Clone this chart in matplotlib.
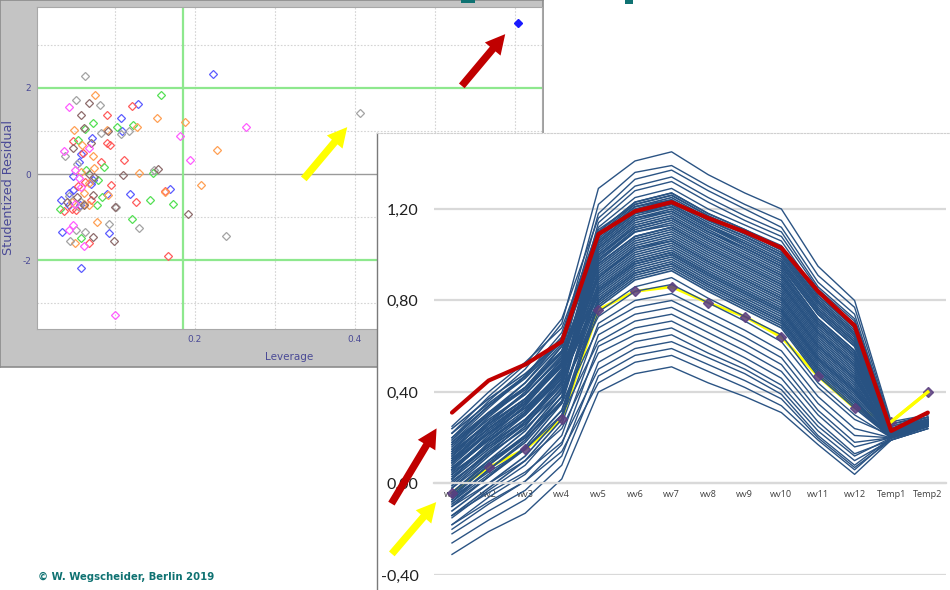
import matplotlib
matplotlib.use("Agg")
import matplotlib.pyplot as plt
from matplotlib.patches import Rectangle, FancyArrowPatch

# -------------------------
# Leverage plot: leverage / studentized residual per group colour
# -------------------------
blue_lev = [0.223, 0.129, 0.107, 0.109, 0.071, 0.057, 0.055, 0.048, 0.073, 0.070, 0.048,
            0.043, 0.090, 0.119, 0.169, 0.033, 0.043, 0.056, 0.034, 0.093, 0.057]
blue_res = [2.32, 1.63, 1.30, 0.99, 0.84, 0.46, 0.29, -0.05, -0.15, -0.24, -0.38,
            -0.44, -0.46, -0.47, -0.35, -0.61, -0.71, -0.72, -1.35, -1.36, -2.18]

red_lev = [0.121, 0.090, 0.047, 0.090, 0.094, 0.060, 0.083, 0.111, 0.062, 0.095,
           0.054, 0.163, 0.070, 0.036, 0.046, 0.051, 0.126, 0.068, 0.166]
red_res = [1.58, 1.38, 0.76, 0.72, 0.68, 0.49, 0.29, 0.32, -0.18, -0.26,
           -0.28, -0.40, -0.61, -0.87, -0.81, -0.83, -0.64, -1.60, -1.91]

green_lev = [0.157, 0.073, 0.062, 0.102, 0.123, 0.054, 0.086, 0.064, 0.147, 0.079,
             0.084, 0.031, 0.077, 0.144, 0.173, 0.121, 0.058]
green_res = [1.83, 1.19, 1.05, 1.09, 1.15, 0.80, 0.16, 0.09, 0.03, -0.13,
             -0.53, -0.81, -0.72, -0.60, -0.69, -1.05, -1.49]

orange_lev = [0.075, 0.152, 0.188, 0.049, 0.090, 0.127, 0.059, 0.228, 0.073, 0.074, 0.058,
              0.130, 0.067, 0.208, 0.061, 0.091, 0.162, 0.061, 0.046, 0.067, 0.078, 0.050]
orange_res = [1.84, 1.29, 1.20, 1.03, 1.02, 1.09, 0.68, 0.55, 0.41, 0.14, 0.05,
              0.02, -0.22, -0.26, -0.44, -0.49, -0.42, -0.69, -0.64, -0.71, -1.12, -1.60]

gray_lev = [0.063, 0.051, 0.081, 0.406, 0.083, 0.107, 0.117, 0.038, 0.052, 0.149,
            0.042, 0.058, 0.055, 0.101, 0.092, 0.130, 0.051, 0.063, 0.044, 0.239]
gray_res = [2.27, 1.72, 1.60, 1.41, 0.96, 0.93, 0.99, 0.43, 0.24, 0.09,
            -0.51, -0.64, -0.77, -0.77, -1.17, -1.26, -1.29, -1.35, -1.56, -1.44]

brown_lev = [0.068, 0.057, 0.061, 0.091, 0.070, 0.048, 0.067, 0.110, 0.154,
             0.074, 0.072, 0.053, 0.040, 0.061, 0.100, 0.191, 0.073, 0.099]
brown_res = [1.64, 1.36, 1.07, 0.99, 0.71, 0.60, 0.01, -0.02, 0.12,
             -0.08, -0.48, -0.53, -0.65, -0.73, -0.77, -0.92, -1.47, -1.56]

magenta_lev = [0.043, 0.264, 0.181, 0.036, 0.068, 0.194, 0.050,
               0.055, 0.057, 0.050, 0.048, 0.042, 0.061, 0.100]
magenta_res = [1.56, 1.09, 0.88, 0.53, 0.60, 0.33, 0.09,
               -0.09, -0.30, -0.69, -1.19, -1.31, -1.67, -3.27]

outlier_lev = [0.604]
outlier_res = [3.51]

lev_limit = 0.185
res_limit = 2.0

# -------------------------
# Spectra: wv1..wv12 plus two temperatures
# -------------------------
variables = ['wv1', 'wv2', 'wv3', 'wv4', 'wv5', 'wv6', 'wv7', 'wv8', 'wv9',
             'wv10', 'wv11', 'wv12', 'Temp1', 'Temp2']
y_ticks = [-0.4, 0.0, 0.4, 0.8, 1.2]
y_tick_labels = ['-0,40', '0,00', '0,40', '0,80', '1,20']

upper_spectra = [
    [0.20, 0.36, 0.50, 0.70, 1.29, 1.41, 1.45, 1.35, 1.27, 1.20, 0.95, 0.80, 0.27, 0.30],
    [0.15, 0.30, 0.44, 0.63, 1.22, 1.36, 1.39, 1.30, 1.22, 1.15, 0.91, 0.77, 0.26, 0.29],
    [0.10, 0.26, 0.40, 0.60, 1.18, 1.33, 1.37, 1.28, 1.20, 1.12, 0.88, 0.74, 0.25, 0.29],
    [0.22, 0.38, 0.52, 0.72, 1.16, 1.30, 1.34, 1.25, 1.17, 1.10, 0.86, 0.72, 0.26, 0.30],
    [0.05, 0.20, 0.34, 0.55, 1.14, 1.28, 1.32, 1.23, 1.15, 1.08, 0.85, 0.71, 0.24, 0.28],
    [0.18, 0.33, 0.47, 0.66, 1.12, 1.25, 1.29, 1.20, 1.13, 1.06, 0.83, 0.70, 0.25, 0.29],
    [0.12, 0.27, 0.40, 0.58, 1.10, 1.23, 1.27, 1.18, 1.11, 1.04, 0.82, 0.69, 0.24, 0.28],
    [0.25, 0.40, 0.53, 0.68, 1.11, 1.22, 1.26, 1.17, 1.10, 1.02, 0.80, 0.66, 0.23, 0.28],
]

middle_spectra = [
    [0.19, 0.34, 0.47, 0.64, 1.10, 1.23, 1.27, 1.18, 1.11, 1.03, 0.82, 0.68, 0.24, 0.29],
    [0.06, 0.21, 0.34, 0.52, 1.09, 1.22, 1.26, 1.17, 1.10, 1.02, 0.81, 0.67, 0.24, 0.28],
    [0.02, 0.18, 0.31, 0.50, 1.08, 1.21, 1.25, 1.16, 1.09, 1.01, 0.80, 0.66, 0.24, 0.28],
    [0.17, 0.31, 0.44, 0.61, 1.08, 1.21, 1.24, 1.15, 1.08, 1.00, 0.79, 0.65, 0.23, 0.28],
    [0.24, 0.37, 0.48, 0.62, 1.07, 1.20, 1.24, 1.15, 1.08, 1.00, 0.79, 0.65, 0.24, 0.28],
    [0.14, 0.29, 0.42, 0.60, 1.06, 1.19, 1.23, 1.14, 1.07, 0.99, 0.78, 0.64, 0.23, 0.28],
    [-0.01, 0.13, 0.27, 0.46, 1.06, 1.19, 1.22, 1.13, 1.06, 0.98, 0.77, 0.63, 0.23, 0.28],
    [0.08, 0.22, 0.35, 0.52, 1.05, 1.18, 1.22, 1.13, 1.05, 0.97, 0.76, 0.62, 0.23, 0.27],
    [0.22, 0.35, 0.47, 0.63, 1.05, 1.18, 1.21, 1.12, 1.05, 0.97, 0.76, 0.62, 0.23, 0.27],
    [0.11, 0.24, 0.36, 0.53, 1.04, 1.17, 1.21, 1.12, 1.04, 0.96, 0.75, 0.61, 0.23, 0.27],
    [-0.02, 0.12, 0.25, 0.45, 1.03, 1.16, 1.20, 1.11, 1.03, 0.95, 0.74, 0.60, 0.22, 0.27],
    [0.09, 0.23, 0.35, 0.52, 1.03, 1.16, 1.19, 1.10, 1.03, 0.95, 0.74, 0.60, 0.22, 0.27],
    [0.20, 0.34, 0.46, 0.62, 1.02, 1.15, 1.19, 1.10, 1.02, 0.94, 0.72, 0.58, 0.23, 0.28],
    [0.13, 0.27, 0.39, 0.56, 1.01, 1.14, 1.18, 1.09, 1.01, 0.93, 0.72, 0.58, 0.23, 0.27],
    [0.10, 0.24, 0.36, 0.53, 1.00, 1.13, 1.17, 1.08, 1.00, 0.92, 0.71, 0.57, 0.22, 0.27],
    [-0.08, 0.06, 0.19, 0.38, 0.99, 1.12, 1.16, 1.07, 0.99, 0.91, 0.70, 0.56, 0.22, 0.27],
    [-0.04, 0.10, 0.23, 0.42, 1.00, 1.12, 1.16, 1.07, 0.99, 0.91, 0.70, 0.56, 0.22, 0.27],
    [0.04, 0.17, 0.30, 0.47, 0.98, 1.11, 1.15, 1.06, 0.98, 0.90, 0.69, 0.55, 0.22, 0.27],
    [0.16, 0.30, 0.42, 0.58, 0.97, 1.10, 1.14, 1.05, 0.97, 0.89, 0.68, 0.54, 0.23, 0.27],
    [0.07, 0.20, 0.32, 0.49, 0.98, 1.10, 1.13, 1.04, 0.96, 0.88, 0.67, 0.53, 0.22, 0.27],
    [-0.06, 0.08, 0.21, 0.40, 0.96, 1.08, 1.12, 1.03, 0.95, 0.87, 0.66, 0.52, 0.22, 0.26],
    [0.17, 0.30, 0.41, 0.57, 0.96, 1.08, 1.12, 1.03, 0.95, 0.87, 0.66, 0.52, 0.22, 0.27],
    [0.15, 0.28, 0.39, 0.55, 0.95, 1.07, 1.11, 1.02, 0.94, 0.86, 0.65, 0.51, 0.22, 0.27],
    [0.12, 0.25, 0.37, 0.54, 0.94, 1.06, 1.10, 1.01, 0.93, 0.85, 0.64, 0.50, 0.22, 0.27],
    [0.02, 0.15, 0.27, 0.44, 0.93, 1.05, 1.09, 1.00, 0.92, 0.84, 0.63, 0.49, 0.21, 0.26],
    [0.06, 0.19, 0.31, 0.48, 0.92, 1.04, 1.08, 0.99, 0.91, 0.83, 0.62, 0.48, 0.21, 0.26],
    [0.00, 0.14, 0.26, 0.43, 0.90, 1.03, 1.07, 0.98, 0.90, 0.82, 0.61, 0.47, 0.21, 0.26],
    [0.06, 0.19, 0.31, 0.47, 0.91, 1.03, 1.06, 0.97, 0.89, 0.81, 0.60, 0.46, 0.21, 0.26],
    [0.11, 0.24, 0.35, 0.51, 0.90, 1.02, 1.06, 0.97, 0.89, 0.81, 0.60, 0.46, 0.21, 0.26],
    [0.18, 0.31, 0.42, 0.57, 0.89, 1.01, 1.05, 0.96, 0.88, 0.80, 0.59, 0.45, 0.22, 0.27],
    [-0.07, 0.06, 0.18, 0.36, 0.88, 1.00, 1.04, 0.95, 0.87, 0.79, 0.58, 0.44, 0.21, 0.26],
    [0.09, 0.22, 0.33, 0.49, 0.87, 0.99, 1.03, 0.94, 0.86, 0.78, 0.57, 0.43, 0.21, 0.26],
    [-0.10, 0.03, 0.16, 0.35, 0.86, 0.98, 1.02, 0.93, 0.85, 0.77, 0.56, 0.42, 0.21, 0.26],
    [-0.05, 0.08, 0.20, 0.36, 0.85, 0.97, 1.01, 0.92, 0.84, 0.76, 0.55, 0.41, 0.21, 0.26],
    [0.04, 0.17, 0.28, 0.44, 0.85, 0.97, 1.01, 0.92, 0.84, 0.76, 0.55, 0.41, 0.21, 0.26],
    [0.03, 0.16, 0.28, 0.44, 0.84, 0.96, 1.00, 0.91, 0.83, 0.75, 0.54, 0.40, 0.21, 0.26],
    [0.14, 0.26, 0.37, 0.52, 0.84, 0.96, 1.00, 0.91, 0.83, 0.75, 0.54, 0.40, 0.22, 0.27],
    [0.13, 0.26, 0.37, 0.52, 0.83, 0.95, 0.99, 0.90, 0.82, 0.74, 0.53, 0.39, 0.22, 0.27],
    [0.10, 0.22, 0.33, 0.48, 0.82, 0.94, 0.98, 0.89, 0.81, 0.73, 0.52, 0.38, 0.21, 0.26],
    [-0.04, 0.09, 0.21, 0.38, 0.81, 0.93, 0.97, 0.88, 0.80, 0.72, 0.51, 0.37, 0.20, 0.26],
    [-0.09, 0.03, 0.15, 0.32, 0.80, 0.92, 0.96, 0.87, 0.79, 0.71, 0.50, 0.36, 0.20, 0.25],
    [0.07, 0.19, 0.30, 0.46, 0.80, 0.92, 0.96, 0.87, 0.79, 0.71, 0.50, 0.36, 0.21, 0.26],
    [-0.14, -0.02, 0.10, 0.28, 0.79, 0.91, 0.95, 0.86, 0.78, 0.70, 0.49, 0.35, 0.20, 0.25],
    [-0.12, 0.00, 0.12, 0.30, 0.78, 0.90, 0.94, 0.85, 0.77, 0.69, 0.48, 0.34, 0.20, 0.25],
    [0.01, 0.13, 0.24, 0.40, 0.77, 0.89, 0.93, 0.84, 0.76, 0.68, 0.47, 0.33, 0.20, 0.26],
]

lower_spectra = [
    [-0.08, 0.04, 0.15, 0.32, 0.75, 0.86, 0.90, 0.81, 0.73, 0.65, 0.44, 0.30, 0.20, 0.25],
    [0.05, 0.16, 0.26, 0.41, 0.73, 0.84, 0.87, 0.79, 0.71, 0.62, 0.42, 0.28, 0.21, 0.26],
    [-0.15, -0.03, 0.08, 0.26, 0.70, 0.80, 0.83, 0.75, 0.67, 0.58, 0.38, 0.24, 0.20, 0.25],
    [-0.02, 0.10, 0.20, 0.35, 0.68, 0.77, 0.80, 0.72, 0.64, 0.55, 0.35, 0.21, 0.20, 0.25],
    [-0.18, -0.06, 0.04, 0.21, 0.65, 0.74, 0.77, 0.69, 0.61, 0.52, 0.32, 0.18, 0.20, 0.25],
    [-0.06, 0.05, 0.15, 0.30, 0.62, 0.71, 0.74, 0.66, 0.58, 0.49, 0.30, 0.16, 0.20, 0.25],
    [-0.20, -0.09, 0.01, 0.17, 0.60, 0.68, 0.71, 0.63, 0.55, 0.46, 0.27, 0.13, 0.19, 0.25],
    [-0.10, 0.00, 0.10, 0.24, 0.57, 0.65, 0.68, 0.60, 0.52, 0.43, 0.25, 0.12, 0.20, 0.25],
    [-0.22, -0.12, -0.03, 0.12, 0.53, 0.62, 0.65, 0.57, 0.50, 0.41, 0.23, 0.10, 0.19, 0.24],
    [-0.14, -0.04, 0.05, 0.18, 0.50, 0.59, 0.62, 0.55, 0.48, 0.39, 0.21, 0.08, 0.20, 0.25],
    [-0.26, -0.16, -0.07, 0.08, 0.47, 0.56, 0.59, 0.52, 0.45, 0.37, 0.20, 0.07, 0.19, 0.24],
    [-0.18, -0.08, 0.01, 0.14, 0.44, 0.53, 0.56, 0.49, 0.42, 0.34, 0.19, 0.06, 0.20, 0.25],
    [-0.31, -0.21, -0.13, 0.02, 0.40, 0.48, 0.51, 0.44, 0.38, 0.31, 0.17, 0.04, 0.19, 0.24],
]

# the two flagged samples
red_sample = [0.31, 0.45, 0.52, 0.62, 1.09, 1.19, 1.23, 1.16, 1.10, 1.03, 0.84, 0.69, 0.23, 0.31]
yellow_sample = [-0.04, 0.07, 0.15, 0.28, 0.76, 0.84, 0.86, 0.79, 0.73, 0.64, 0.47, 0.33, 0.27, 0.40]

# =========================
# Figure, laid out in pixels
# =========================
W, H = 950, 590
fig = plt.figure(figsize=(W / 100, H / 100), dpi=100)
fig.patch.set_facecolor('white')


def px_rect(x0, y0, x1, y1):
    return [x0 / W, 1 - y1 / H, (x1 - x0) / W, (y1 - y0) / H]


# grey window frame of the leverage plot
frame = fig.add_axes(px_rect(0, 0, 543, 367), zorder=0)
frame.set_facecolor('#c4c4c4')
frame.set_xticks([])
frame.set_yticks([])
for s in frame.spines.values():
    s.set_color('#8c8c8c')
    s.set_linewidth(1.2)

# leverage plot
sc = fig.add_axes(px_rect(37, 7, 542, 329), zorder=1)
sc.set_facecolor('white')
sc.set_xlim(0.0025, 0.634)
sc.set_ylim(-3.6, 3.88)
for v in [0.1, 0.2, 0.3, 0.4, 0.5, 0.6]:
    sc.axvline(v, color='#d4d4d4', lw=0.8, ls=(0, (1.5, 1.5)), zorder=0)
for v in [-3, -1, 1, 3]:
    sc.axhline(v, color='#d4d4d4', lw=0.8, ls=(0, (1.5, 1.5)), zorder=0)
sc.axhline(0, color='#9a9a9a', lw=1.0, zorder=1)
sc.axhline(res_limit, color='#8ee88e', lw=1.6, zorder=1)
sc.axhline(-res_limit, color='#8ee88e', lw=1.6, zorder=1)
sc.axvline(lev_limit, color='#8ee88e', lw=1.6, zorder=1)

groups = [
    (blue_lev, blue_res, '#5c5cff'),
    (red_lev, red_res, '#ff5c5c'),
    (green_lev, green_res, '#55e055'),
    (orange_lev, orange_res, '#ffa054'),
    (gray_lev, gray_res, '#a3a3a3'),
    (brown_lev, brown_res, '#8e6c6c'),
    (magenta_lev, magenta_res, '#ff5cff'),
]
for lev, res, col in groups:
    sc.plot(lev, res, ls='none', marker='D', ms=4.3, mfc='none', mec=col, mew=0.9, zorder=3)
sc.plot(outlier_lev, outlier_res, ls='none', marker='D', ms=3.8, color='#1a1aff', zorder=4)

sc.set_xticks([0.2, 0.4, 0.6])
sc.set_xticklabels(['0.2', '0.4', '0.6'])
sc.set_yticks([-2, 0, 2])
sc.set_yticklabels(['-2', '0', '2'])
sc.tick_params(length=0, labelsize=6.5, colors='#4a4a96', pad=4)
sc.set_xlabel('Leverage', fontsize=7.5, color='#4a4a96', labelpad=6)
sc.set_ylabel('Studentized Residual', fontsize=9.2, color='#4a4a96')
sc.yaxis.set_label_coords(-0.044, 0.44)
for s in sc.spines.values():
    s.set_color('#a8a8a8')
    s.set_linewidth(0.8)

# white panel holding the spectra chart
panel = fig.add_axes(px_rect(377, 133, 950, 590), zorder=2)
panel.set_facecolor('white')
panel.set_xticks([])
panel.set_yticks([])
panel.spines['right'].set_visible(False)
panel.spines['bottom'].set_visible(False)
panel.spines['left'].set_color('#7a7a7a')
panel.spines['left'].set_linewidth(1.0)
panel.spines['top'].set_color('#d0d0d0')
panel.spines['top'].set_linestyle((0, (1.5, 1.5)))
panel.spines['top'].set_linewidth(0.8)

# spectra line chart
ax = fig.add_axes(px_rect(433.7, 117.5, 946.1, 575), zorder=3)
ax.patch.set_alpha(0)
for side in ['top', 'right', 'left']:
    ax.spines[side].set_visible(False)
# category axis crosses at zero, as in the spreadsheet chart
ax.spines['bottom'].set_position(('data', 0))
ax.spines['bottom'].set_color('#d9d9d9')
ax.spines['bottom'].set_linewidth(1.6)
ax.set_xlim(-0.5, len(variables) - 0.5)
ax.set_ylim(-0.4, 1.6)
x = list(range(len(variables)))

# flagged yellow sample sits underneath the bundle
ax.plot(x, yellow_sample, color='#ffff00', lw=2.2, zorder=1.9)
for row in upper_spectra + lower_spectra:
    ax.plot(x, row, color='#2b5484', lw=1.0, zorder=2)
for row in middle_spectra:
    ax.plot(x, row, color='#285282', lw=1.2, zorder=2)
ax.plot(x, yellow_sample, ls='none', marker='D', ms=5, mfc='#5b3f80', mec='#5b3f80',
        alpha=0.85, zorder=2.1)
ax.plot(x[-2:], yellow_sample[-2:], color='#ffff00', lw=2.4, zorder=2.2)
ax.plot(x, red_sample, color='#c00000', lw=3.0, zorder=4, solid_capstyle='round')

ax.set_yticks(y_ticks)
ax.set_yticklabels(y_tick_labels, fontfamily='Lato', fontsize=11.5, color='#202020')
ax.set_xticks(x)
ax.set_xticklabels(variables, fontfamily='Open Sans')
ax.tick_params(axis='y', length=0, pad=11)
ax.tick_params(axis='x', length=0, pad=5, labelsize=6.6, labelcolor='#404040')
ax.yaxis.grid(True, color='#d9d9d9', lw=1.6)
ax.set_axisbelow(True)

# arrows and slide decorations on top
ov = fig.add_axes([0, 0, 1, 1], zorder=10)
ov.set_xlim(0, W)
ov.set_ylim(H, 0)
ov.set_axis_off()

arrows = [
    ((460, 88), (507, 32), '#c00000'),
    ((302, 181), (349, 125), '#ffff00'),
    ((390, 506), (438, 426), '#c00000'),
    ((390, 556), (438, 500), '#ffff00'),
]
for tail, head, col in arrows:
    ov.add_patch(FancyArrowPatch(tail, head, mutation_scale=14, color=col, lw=0,
                                 arrowstyle='simple,head_length=1.0,head_width=1.05,tail_width=0.38'))

ov.add_patch(Rectangle((461, 0), 14, 2.5, color='#0f7272', lw=0))
ov.add_patch(Rectangle((625, 0), 8, 4, color='#0f7272', lw=0))

fig.text(38 / W, 1 - 577 / H, '\u00a9 W. Wegscheider, Berlin 2019', fontsize=7.3,
         fontweight='bold', color='#0f7272', va='center', ha='left')

fig.savefig('out.png', dpi=100)
